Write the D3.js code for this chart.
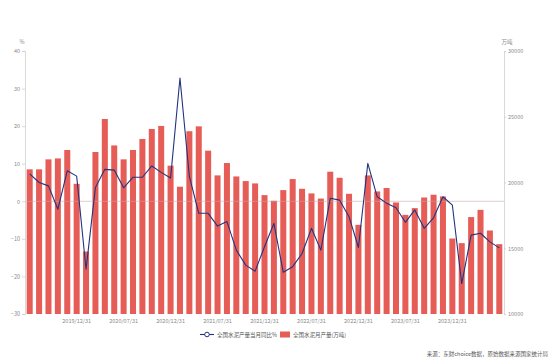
<!DOCTYPE html>
<html><head><meta charset="utf-8">
<script src="https://cdn.jsdelivr.net/npm/d3@7"></script>
<style>body{margin:0;background:#fff}svg{display:block}text{font-family:"Noto Sans CJK SC","Noto Sans",sans-serif}</style>
</head><body><svg id="c" width="558" height="361"></svg>
<script>
const categories = [
 "2019/07/31","2019/08/31","2019/09/30","2019/10/31","2019/11/30","2019/12/31",
 "2020/03/31","2020/04/30","2020/05/31","2020/06/30","2020/07/31","2020/08/31","2020/09/30","2020/10/31","2020/11/30","2020/12/31",
 "2021/03/31","2021/04/30","2021/05/31","2021/06/30","2021/07/31","2021/08/31","2021/09/30","2021/10/31","2021/11/30","2021/12/31",
 "2022/03/31","2022/04/30","2022/05/31","2022/06/30","2022/07/31","2022/08/31","2022/09/30","2022/10/31","2022/11/30","2022/12/31",
 "2023/03/31","2023/04/30","2023/05/31","2023/06/30","2023/07/31","2023/08/31","2023/09/30","2023/10/31","2023/11/30","2023/12/31",
 "2024/03/31","2024/04/30","2024/05/31","2024/06/30","2024/07/31"];
const output = [21000,21000,21760,21830,22470,19900,14750,22320,24830,22820,21760,22470,23310,24070,24300,21280,
 19680,23900,24270,22420,20540,21480,20460,20110,19930,19040,
 18610,19420,20260,19520,19170,18780,20820,20360,19140,16780,
 20540,19320,19580,18480,17540,18050,18860,19070,18940,15740,
 15390,17370,17920,16350,15310];
const yoy = [7.3,5.0,4.1,-2.1,8.1,6.7,-18.1,3.7,8.5,8.3,3.6,6.4,6.4,9.4,7.7,6.2,
 32.8,6.6,-3.2,-3.2,-6.6,-5.4,-13.0,-17.0,-18.6,-12.1,
 -5.9,-18.9,-17.4,-13.9,-7.2,-13.0,0.8,0.3,-4.1,-12.3,
 10.1,1.2,-0.5,-1.7,-5.6,-2.3,-7.2,-4.4,1.2,-1.0,
 -21.9,-9.0,-8.5,-10.8,-12.4];
const xTickLabels = ["2019/12/31","2020/07/31","2020/12/31","2021/07/31","2021/12/31","2022/07/31","2022/12/31","2023/07/31","2023/12/31"];
const leftTicks = [40,30,20,10,0,-10,-20,-30];
const rightTicks = [30000,25000,20000,15000,10000];
const seriesNames = ["全国水泥产量当月同比%","全国水泥月产量(万吨)"];
const sourceText = "来源：东财choice数据，原始数据来源国家统计局";

const svg = d3.select("#c");
const L = 25, R = 504, T = 51, B = 314;
const x = d3.scaleBand().domain(categories).range([L, R]).paddingInner(0.36).paddingOuter(0.18);
const yL = d3.scaleLinear().domain([-30, 40]).range([B, T]);
const yR = d3.scaleLinear().domain([10000, 30000]).range([B, T]);
const barColor = "#e65c57", lineColor = "#22347f", txt = "#8a8a8a";

// bars
svg.append("g").selectAll("rect").data(output).join("rect")
  .attr("x", (d,i) => x(categories[i])).attr("width", x.bandwidth())
  .attr("y", d => yR(d)).attr("height", d => B - yR(d)).attr("fill", barColor);

// zero line
svg.append("line").attr("x1", L).attr("x2", R).attr("y1", yL(0)).attr("y2", yL(0))
  .attr("stroke", "#c9a9a9").attr("stroke-opacity", 0.7).attr("stroke-width", 0.8);

// left axis
const gl = svg.append("g").attr("transform", `translate(${L},0)`)
  .call(d3.axisLeft(yL).tickValues(leftTicks).tickSize(3).tickPadding(2).tickFormat(d3.format("d")));
// right axis
const gr = svg.append("g").attr("transform", `translate(${R},0)`)
  .call(d3.axisRight(yR).tickValues(rightTicks).tickSize(2).tickPadding(2).tickFormat(d3.format("d")));
[gl, gr].forEach(g => {
  g.select(".domain").attr("stroke", "#cfcfcf").attr("stroke-width", 0.8);
  g.selectAll(".tick line").attr("stroke", "#cfcfcf").attr("stroke-width", 0.8);
  g.selectAll("text").attr("fill", txt).style("font-size", "5.5px");
});

// x axis labels
const gx = svg.append("g").attr("transform", `translate(0,${B})`)
  .call(d3.axisBottom(x).tickValues(xTickLabels).tickSize(0).tickPadding(5));
gx.select(".domain").remove();
gx.selectAll("text").attr("fill", txt).style("font-size", "5.5px");

// line
const line = d3.line().x((d,i) => x(categories[i]) + x.bandwidth()/2).y(d => yL(d));
svg.append("path").datum(yoy).attr("d", line).attr("fill", "none")
  .attr("stroke", lineColor).attr("stroke-width", 1.1).attr("stroke-linejoin", "round");

// units
svg.append("text").attr("x", 22).attr("y", 44).attr("text-anchor", "middle").attr("fill", txt).style("font-size", "5.5px").text("%");
svg.append("text").attr("x", 507).attr("y", 44).attr("text-anchor", "middle").attr("fill", txt).style("font-size", "5.5px").text("万吨");

// legend
const lg = svg.append("g");
lg.append("line").attr("x1", 200).attr("x2", 214).attr("y1", 334.5).attr("y2", 334.5).attr("stroke", lineColor).attr("stroke-width", 1.1);
lg.append("circle").attr("cx", 207).attr("cy", 334.5).attr("r", 2.3).attr("fill", "#fff").attr("stroke", lineColor).attr("stroke-width", 1);
lg.append("text").attr("x", 217).attr("y", 336.5).attr("fill", "#555").style("font-size", "5.5px").text(seriesNames[0]);
lg.append("rect").attr("x", 280).attr("y", 331.5).attr("width", 10).attr("height", 6).attr("fill", barColor);
lg.append("text").attr("x", 293).attr("y", 336.5).attr("fill", "#555").style("font-size", "5.5px").text(seriesNames[1]);

// source
svg.append("text").attr("x", 548).attr("y", 356).attr("text-anchor", "end").attr("fill", "#555").style("font-size", "5.5px").text(sourceText);
</script></body></html>
